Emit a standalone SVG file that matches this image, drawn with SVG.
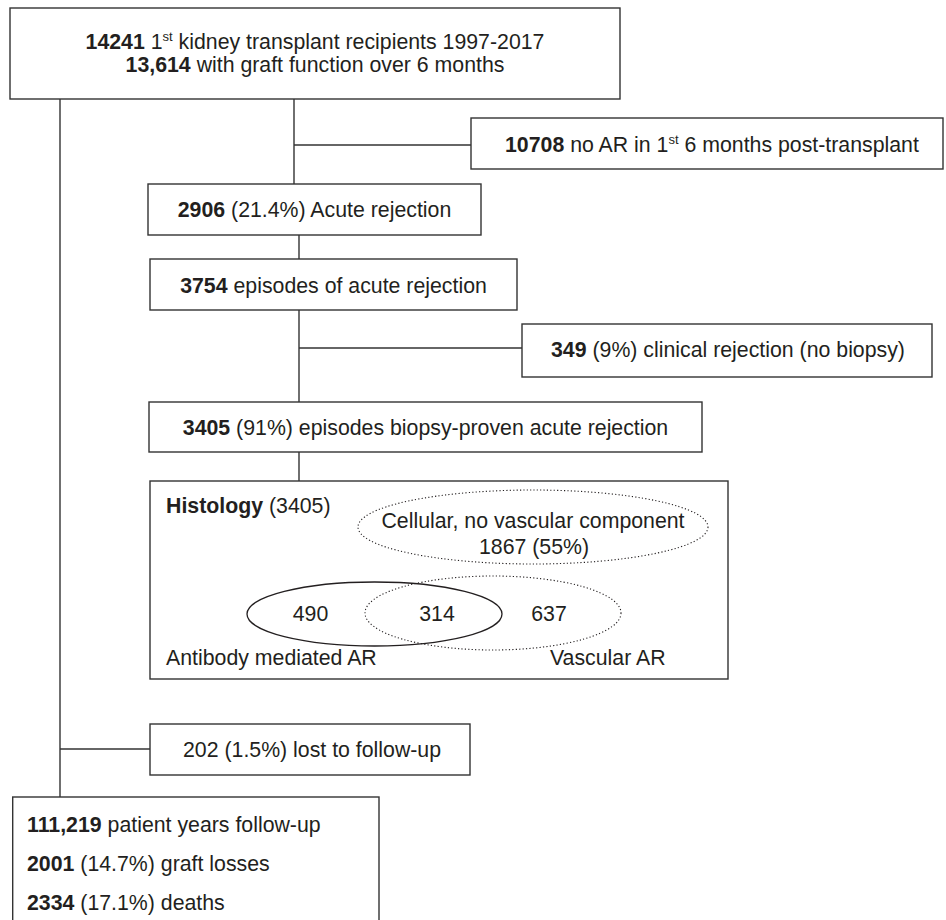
<svg xmlns="http://www.w3.org/2000/svg" width="946" height="920" viewBox="0 0 946 920">
<style>
text{font-family:"Liberation Sans",Arial,sans-serif;font-size:21.3px;fill:#231f20}
.b{font-weight:bold}
.box{fill:#fff;stroke:#333;stroke-width:1.4}
.ln{stroke:#333;stroke-width:1.4;fill:none}
.sol{fill:none;stroke:#231f20;stroke-width:1.3}
.dot{fill:none;stroke:#231f20;stroke-width:1.1;stroke-dasharray:1.2 2.2}
.m{text-anchor:middle}
</style>
<rect width="946" height="920" fill="#fff"/>
<g id="connectors">
<line class="ln" x1="60" y1="99" x2="60" y2="797"/>
<line class="ln" x1="60" y1="749" x2="150" y2="749"/>
<line class="ln" x1="294" y1="99" x2="294" y2="184"/>
<line class="ln" x1="294" y1="145" x2="471" y2="145"/>
<line class="ln" x1="299" y1="235" x2="299" y2="259"/>
<line class="ln" x1="299" y1="310" x2="299" y2="402"/>
<line class="ln" x1="299" y1="348" x2="522" y2="348"/>
<line class="ln" x1="299" y1="452" x2="299" y2="481"/>
</g>
<g id="n-top">
<rect class="box" x="10" y="8" width="610" height="91"/>
<text class="m" x="315" y="49"><tspan class="b">14241</tspan> 1<tspan font-size="13" dy="-8">st</tspan><tspan dy="8"> kidney transplant recipients 1997-2017</tspan></text>
<text class="m" x="315" y="72"><tspan class="b">13,614</tspan> with graft function over 6 months</text>
</g>
<g id="n-noar">
<rect class="box" x="471" y="118" width="472" height="51"/>
<text x="505" y="152"><tspan class="b">10708</tspan> no AR in 1<tspan font-size="13" dy="-8">st</tspan><tspan dy="8"> 6 months post-transplant</tspan></text>
</g>
<g id="n-ar">
<rect class="box" x="148" y="184" width="333" height="51"/>
<text class="m" x="314.5" y="217"><tspan class="b">2906</tspan> (21.4%) Acute rejection</text>
</g>
<g id="n-episodes">
<rect class="box" x="150" y="259" width="367" height="51"/>
<text class="m" x="333.5" y="293"><tspan class="b">3754</tspan> episodes of acute rejection</text>
</g>
<g id="n-clinical">
<rect class="box" x="522" y="324" width="410" height="53"/>
<text x="551" y="357"><tspan class="b">349</tspan> (9%) clinical rejection (no biopsy)</text>
</g>
<g id="n-bpar">
<rect class="box" x="149" y="402" width="553" height="50"/>
<text class="m" x="425.5" y="435"><tspan class="b">3405</tspan> (91%) episodes biopsy-proven acute rejection</text>
</g>
<g id="n-histology">
<rect class="box" x="150" y="481" width="578" height="198"/>
<text x="166" y="513"><tspan class="b">Histology</tspan> (3405)</text>
<ellipse class="dot" cx="533" cy="527" rx="175" ry="37"/>
<text class="m" x="533" y="528">Cellular, no vascular component</text>
<text class="m" x="534" y="554">1867 (55%)</text>
<ellipse class="sol" cx="374.5" cy="614" rx="127.5" ry="32"/>
<ellipse class="dot" cx="493" cy="613" rx="128" ry="37"/>
<text class="m" x="310.5" y="621">490</text>
<text class="m" x="437" y="621">314</text>
<text class="m" x="549" y="621">637</text>
<text x="166" y="665">Antibody mediated AR</text>
<text x="550" y="665">Vascular AR</text>
</g>
<g id="n-lost">
<rect class="box" x="150" y="724" width="320" height="51"/>
<text x="183" y="757">202 (1.5%) lost to follow-up</text>
</g>
<g id="n-outcome">
<rect class="box" x="12.7" y="797" width="366.3" height="130"/>
<text x="27" y="832"><tspan class="b">111,219</tspan> patient years follow-up</text>
<text x="27" y="871"><tspan class="b">2001</tspan> (14.7%) graft losses</text>
<text x="27" y="910"><tspan class="b">2334</tspan> (17.1%) deaths</text>
</g>
</svg>
